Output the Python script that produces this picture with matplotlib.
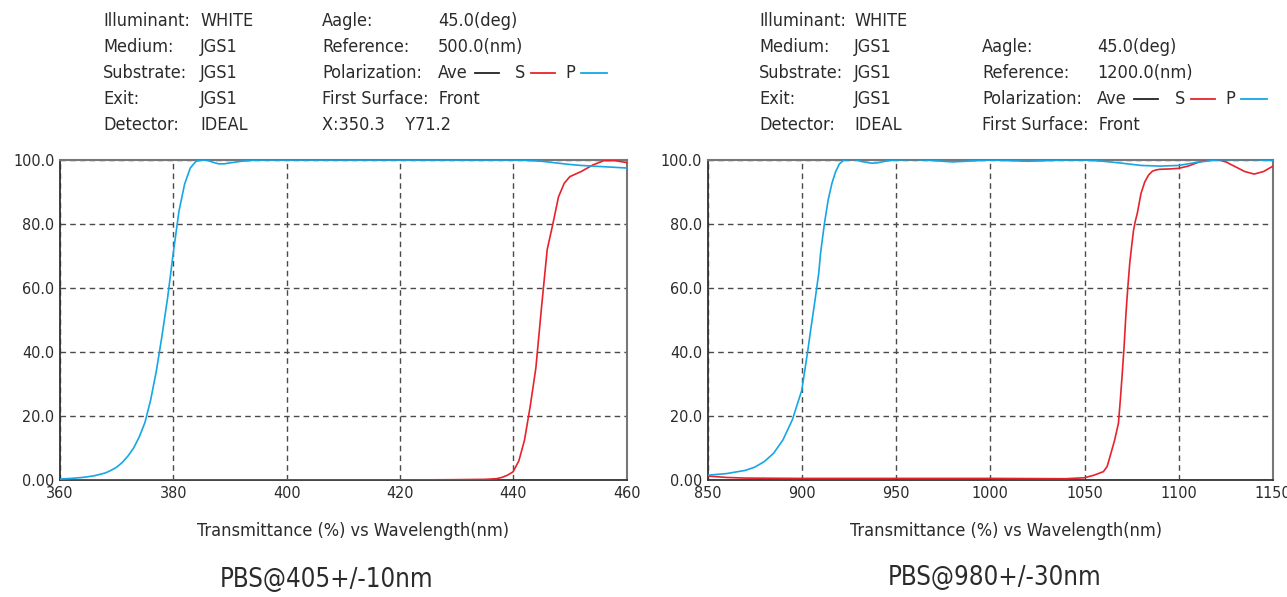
import matplotlib
matplotlib.use("Agg")
import matplotlib.pyplot as plt
from matplotlib import font_manager as fm

# pick a narrow font if one is installed
_cands = [f for f in fm.fontManager.ttflist
          if f.stretch in ("condensed", "semi-condensed", "extra-condensed")
          or "Narrow" in f.name or "Condensed" in f.name]
if _cands:
    FONT = _cands[0].name
    STRETCH = _cands[0].stretch
else:
    FONT = "Roboto"
    STRETCH = "normal"
plt.rcParams["font.family"] = [FONT, "DejaVu Sans"]
plt.rcParams["font.stretch"] = STRETCH

W, H = 1287, 597

# ---- left chart: PBS@405 ----
wl_p1 = [360, 362, 364, 366, 368, 369, 370, 371, 372, 373, 374, 375, 376, 377,
         378, 379, 380, 381, 382, 383, 384, 385, 386, 387, 388, 389, 390, 392,
         394, 396, 400, 420, 440, 442, 445, 448, 450, 452, 455, 458, 460]
tp_p1 = [0.3, 0.5, 0.8, 1.3, 2.2, 3.0, 4.0, 5.5, 7.5, 10.0, 13.5, 18.0, 25.0, 34.0,
         45.0, 57.0, 71.0, 84.0, 92.5, 97.5, 99.6, 100.0, 99.9, 99.3, 98.8, 98.8, 99.1, 99.6,
         99.9, 100.0, 100.0, 100.0, 100.0, 99.9, 99.6, 99.0, 98.6, 98.3, 98.0, 97.7, 97.5]
wl_s1 = [360, 380, 400, 420, 430, 435, 437, 438, 439, 440, 441, 442, 443, 444,
         445, 446, 447, 448, 449, 450, 452, 454, 456, 458, 460]
tp_s1 = [0.0, 0.0, 0.0, 0.0, 0.1, 0.2, 0.4, 0.8, 1.5, 2.6, 6.0, 12.5, 23.0, 35.0,
         54.0, 72.0, 80.0, 88.5, 92.7, 94.8, 96.4, 98.4, 99.8, 99.8, 99.2]

# ---- right chart: PBS@980 ----
wl_p2 = [850, 860, 870, 875, 880, 885, 890, 895, 900, 903, 905, 907, 909, 910,
         912, 914, 916, 918, 920, 922, 925, 928, 932, 937, 940, 945, 950, 960,
         970, 980, 990, 1000, 1010, 1020, 1030, 1040, 1050, 1060, 1070, 1080,
         1090, 1100, 1110, 1120, 1130, 1140, 1150]
tp_p2 = [1.5, 2.0, 3.0, 4.0, 5.7, 8.3, 12.5, 18.8, 28.0, 39.6, 48.0, 56.0, 64.6, 71.0,
         80.0, 87.5, 92.7, 96.4, 98.8, 99.8, 100.2, 100.2, 99.5, 99.0, 99.1, 99.7, 100.0, 100.2,
         99.8, 99.4, 99.7, 100.0, 99.8, 99.6, 99.8, 100.0, 100.0, 99.6, 99.0, 98.3,
         98.1, 98.3, 99.3, 100.0, 100.2, 100.2, 99.8]
wl_s2 = [850, 860, 870, 900, 1000, 1040, 1050, 1055, 1060, 1062, 1064, 1066, 1068,
         1069, 1070, 1071, 1072, 1073, 1074, 1075, 1076, 1077, 1078, 1079, 1080,
         1082, 1084, 1086, 1088, 1090, 1095, 1100, 1105, 1110, 1115, 1118, 1120,
         1125, 1130, 1135, 1140, 1145, 1150]
tp_s2 = [1.25, 0.8, 0.6, 0.5, 0.5, 0.4, 0.7, 1.5, 2.6, 4.2, 8.3, 12.5, 17.7,
         25.0, 33.0, 41.7, 52.0, 60.4, 67.7, 73.0, 78.0, 81.0, 83.3, 86.5, 89.6,
         93.2, 95.3, 96.5, 96.9, 97.1, 97.2, 97.4, 98.1, 99.2, 100.0, 100.3, 100.2,
         99.4, 97.9, 96.4, 95.6, 96.4, 98.1]

yticks = [0, 20, 40, 60, 80, 100]
ytick_labels = ["0.00", "20.0", "40.0", "60.0", "80.0", "100.0"]
xticks1 = [360, 380, 400, 420, 440, 460]
xticks2 = [850, 900, 950, 1000, 1050, 1100, 1150]

BLUE = "#16a6e6"
RED = "#e8222c"
GRID = "#4a4a4a"
TXT = "#2b2b2b"

fig = plt.figure(figsize=(W / 100, H / 100), dpi=100)


def px(x, y):
    return x / W, 1 - y / H


def setup(ax, xticks, xlim, label_x):
    ax.set_xlim(xlim)
    ax.set_ylim(0, 100)
    ax.set_xticks(xticks)
    ax.set_yticks(yticks)
    ax.set_yticklabels(ytick_labels)
    ax.tick_params(length=0, labelsize=11.5, colors=TXT, pad=4)
    ax.grid(True, color=GRID, linestyle=(0, (4, 3)), linewidth=1.0)
    for s in ("left", "bottom"):
        ax.spines[s].set_color("#333333")
        ax.spines[s].set_linewidth(1.3)
    for s in ("top", "right"):
        ax.spines[s].set_color("#777777")
        ax.spines[s].set_linewidth(1.5)
    ax.set_xlabel("Transmittance (%) vs Wavelength(nm)", fontsize=13,
                  color=TXT)
    ax.xaxis.set_label_coords(label_x, -0.13)


ax1 = fig.add_axes([60 / W, 117 / H, 566.5 / W, 320 / H])
setup(ax1, xticks1, (360, 460), 0.518)
ax1.plot(wl_s1, tp_s1, color=RED, lw=1.2, zorder=3)
ax1.plot(wl_p1, tp_p1, color=BLUE, lw=1.2, zorder=3)

ax2 = fig.add_axes([707.5 / W, 117 / H, 565.5 / W, 320 / H])
setup(ax2, xticks2, (850, 1150), 0.527)
ax2.plot(wl_s2, tp_s2, color=RED, lw=1.2, zorder=3)
ax2.plot(wl_p2, tp_p2, color=BLUE, lw=1.2, zorder=3)

FS = 13


def txt(x, y, s, **kw):
    fig.text(*px(x, y), s, fontsize=kw.pop("fontsize", FS), color=TXT,
             va="center", ha=kw.pop("ha", "left"), **kw)


def legend_row(x0, y, x_ave, x_s, x_p):
    txt(x0, y, "Polarization:")
    txt(x_ave, y, "Ave")
    fig.add_artist(plt.Line2D([(x_ave + 37) / W, (x_ave + 61) / W],
                              [1 - y / H, 1 - y / H], color="#222222", lw=1.3))
    txt(x_s, y, "S")
    fig.add_artist(plt.Line2D([(x_s + 16) / W, (x_s + 40) / W],
                              [1 - y / H, 1 - y / H], color=RED, lw=1.3))
    txt(x_p, y, "P")
    fig.add_artist(plt.Line2D([(x_p + 16) / W, (x_p + 42) / W],
                              [1 - y / H, 1 - y / H], color=BLUE, lw=1.3))


rows = [21, 47, 73, 99, 125]
left_labels = ["Illuminant:", "Medium:", "Substrate:", "Exit:", "Detector:"]
left_values = ["WHITE", "JGS1", "JGS1", "JGS1", "IDEAL"]

# left header
for y, lab, val in zip(rows, left_labels, left_values):
    txt(103, y, lab)
    txt(200, y, val)
txt(322, rows[0], "Aagle:")
txt(438, rows[0], "45.0(deg)")
txt(322, rows[1], "Reference:")
txt(438, rows[1], "500.0(nm)")
legend_row(322, rows[2], 438, 515, 565)
txt(322, rows[3], "First Surface:  Front")
txt(322, rows[4], "X:350.3    Y71.2")

# right header
for y, lab, val in zip(rows, left_labels, left_values):
    txt(759, y, lab)
    txt(854, y, val)
txt(982, rows[1], "Aagle:")
txt(1097, rows[1], "45.0(deg)")
txt(982, rows[2], "Reference:")
txt(1097, rows[2], "1200.0(nm)")
legend_row(982, rows[3], 1097, 1175, 1225)
txt(982, rows[4], "First Surface:  Front")

# captions
txt(327, 580, "PBS@405+/-10nm", fontsize=18.5, ha="center")
txt(995, 578, "PBS@980+/-30nm", fontsize=18.5, ha="center")

fig.savefig("out.png", dpi=100)
